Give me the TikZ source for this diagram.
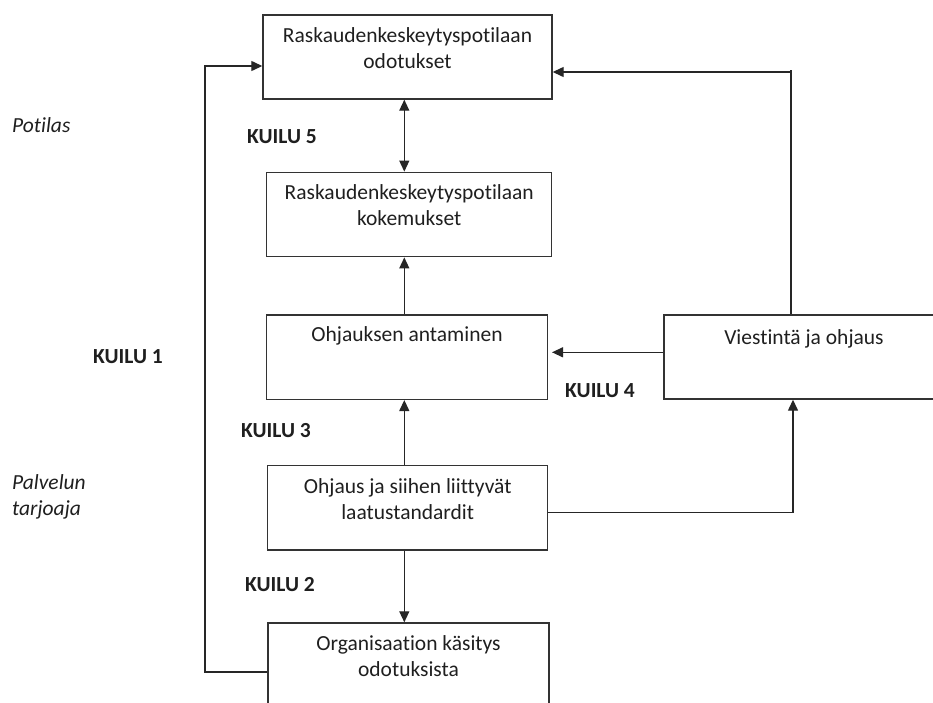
\documentclass[tikz,border=0pt]{standalone}
\usepackage{fontspec}
\setmainfont{Carlito}[Ligatures=NoCommon]
\usetikzlibrary{arrows.meta}
\begin{document}
\begin{tikzpicture}[x=1pt,y=-1pt,
  every node/.style={font=\fontsize{21.5}{26}\selectfont, text=black!88},
  boxn/.style={draw=black!80, line width=1.4pt, inner sep=0pt},
  boxtext/.style={anchor=base, align=center, inner sep=0pt},
  lbl/.style={anchor=base west, inner sep=0pt},
  gap/.style={lbl, font=\fontsize{21.5}{26}\selectfont\bfseries},
  side/.style={lbl, font=\fontsize{21.5}{26}\selectfont\itshape, align=left},
  conn/.style={draw=black!85, line width=1.3pt},
  arr/.style={conn, -{Triangle[length=11pt,width=10pt]}},
  darr/.style={conn, {Triangle[length=11pt,width=10pt]}-{Triangle[length=11pt,width=10pt]}}
]
\useasboundingbox (0,0) rectangle (933,702);

% boxes
\node[boxn, minimum width=289pt, minimum height=84pt] (b1) at (407.5,57) {};
\node[boxn, minimum width=285pt, minimum height=84.4pt] (b2) at (409.2,214.5) {};
\node[boxn, minimum width=280.6pt, minimum height=84.3pt] (b3) at (407,357.2) {};
\node[boxn, minimum width=280pt, minimum height=84.7pt] (b4) at (407.7,507.7) {};
\node[boxn, minimum width=281pt, minimum height=87pt] (b5) at (408.5,666.5) {};
\node[boxn, minimum width=280pt, minimum height=84pt] (v) at (804,357) {};

% box texts (base anchor = last line baseline)
\node[boxtext] (t1) at (407.5,68.5) {Raskaudenkeskeytyspotilaan\\odotukset};
\node[boxtext] (t2) at (409.2,225.7) {Raskaudenkeskeytyspotilaan\\kokemukset};
\node[boxtext] (t3) at (407,341) {Ohjauksen antaminen};
\node[boxtext] (t4) at (407.7,519) {Ohjaus ja siihen liittyvät\\laatustandardit};
\node[boxtext] (t5) at (408.5,676) {Organisaation käsitys\\odotuksista};
\node[boxtext] (tv) at (804,344.3) {Viestintä ja ohjaus};

% labels
\node[side] (pot) at (12,132) {Potilas};
\node[side] (pal) at (12,515) {Palvelun\\tarjoaja};
\node[gap] (k5) at (247,143) {KUILU 5};
\node[gap] (k1) at (93,363) {KUILU 1};
\node[gap] (k4) at (565,397) {KUILU 4};
\node[gap] (k3) at (241,437) {KUILU 3};
\node[gap] (k2) at (245,591) {KUILU 2};

% helper coordinates
\coordinate (cx) at (404.3,0);
\coordinate (cy1) at (0,352.3);
\coordinate (tr) at (791,70);
\coordinate (cy2) at (0,72);
\coordinate (cy3) at (0,512.7);
\coordinate (cx3) at (793,0);
\coordinate (cy4) at (0,672);
\coordinate (lc) at (205,66);

% connectors
\draw[darr] (b1.south -| cx) -- (b2.north -| cx);
\draw[arr] (b3.north -| cx) -- (b2.south -| cx);
\draw[arr] (b4.north -| cx) -- (b3.south -| cx);
\draw[arr] (b4.south -| cx) -- (b5.north -| cx);
\draw[arr, shorten >=4pt] (v.west |- cy1) -- (b3.east |- cy1);
\draw[conn] (v.north -| tr) -- (tr);
\draw[arr] (tr |- cy2) -- (b1.east |- cy2);
\draw[arr] (b4.east |- cy3) -| (v.south -| cx3);
\draw[arr] (b5.west |- cy4) -| (lc) -- (b1.west |- lc);
\end{tikzpicture}
\end{document}
